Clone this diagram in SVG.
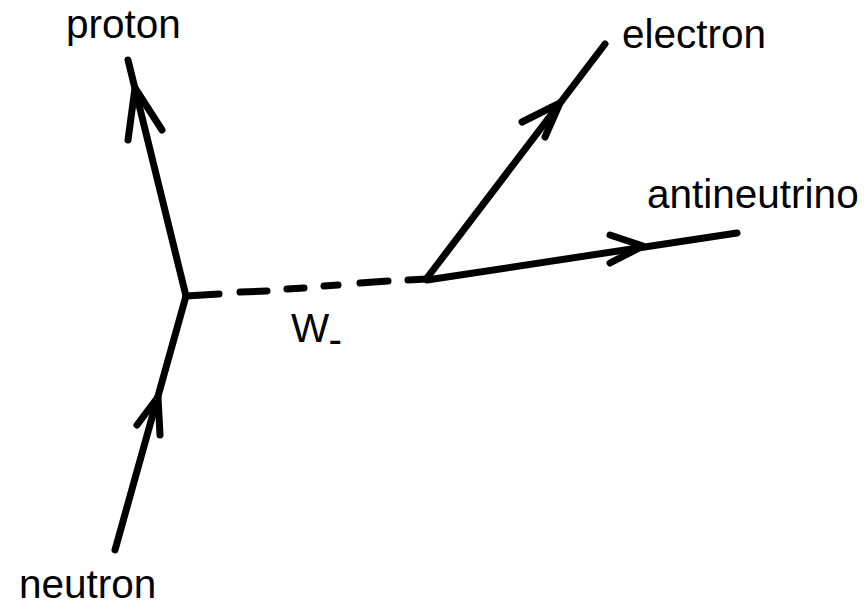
<svg xmlns="http://www.w3.org/2000/svg" width="868" height="613" viewBox="0 0 868 613">
<style>
.ln{stroke:#000;stroke-width:7;stroke-linecap:round;stroke-linejoin:round;fill:none}
.lbl{font-family:"Liberation Sans",Arial,sans-serif;font-size:40.5px;fill:#000}
</style>
<rect width="868" height="613" fill="#fff"/>
<g id="connectors">
<g id="neutron-line"><line class="ln" x1="115" y1="550" x2="186" y2="296"/><polyline class="ln" points="137,425 158,397 160,435"/></g>
<g id="proton-line"><line class="ln" x1="186" y1="296" x2="128" y2="60"/><polyline class="ln" points="128,140 135,88 162,130"/></g>
<g id="w-line">
<line class="ln" x1="186" y1="296" x2="219" y2="294"/>
<line class="ln" x1="240" y1="292" x2="267" y2="291"/>
<line class="ln" x1="287" y1="289" x2="304" y2="288"/>
<line class="ln" x1="324" y1="286" x2="338" y2="285"/>
<line class="ln" x1="360" y1="283" x2="388" y2="281"/>
<line class="ln" x1="408" y1="280" x2="427" y2="279"/>
</g>
<g id="electron-line"><line class="ln" x1="427" y1="278" x2="605" y2="44"/><polyline class="ln" points="522,122 560,103 545,137"/></g>
<g id="antineutrino-line"><line class="ln" x1="427" y1="280" x2="737" y2="233"/><polyline class="ln" points="610,235 643,246 610,263"/></g>
</g>
<g id="proton"><text class="lbl" x="66" y="38">proton</text></g>
<g id="electron"><text class="lbl" x="622" y="48">electron</text></g>
<g id="antineutrino"><text class="lbl" x="647" y="208">antineutrino</text></g>
<g id="neutron"><text class="lbl" x="19" y="598">neutron</text></g>
<g id="w-boson"><text class="lbl" x="291" y="342">W<tspan dy="11">-</tspan></text></g>
</svg>
